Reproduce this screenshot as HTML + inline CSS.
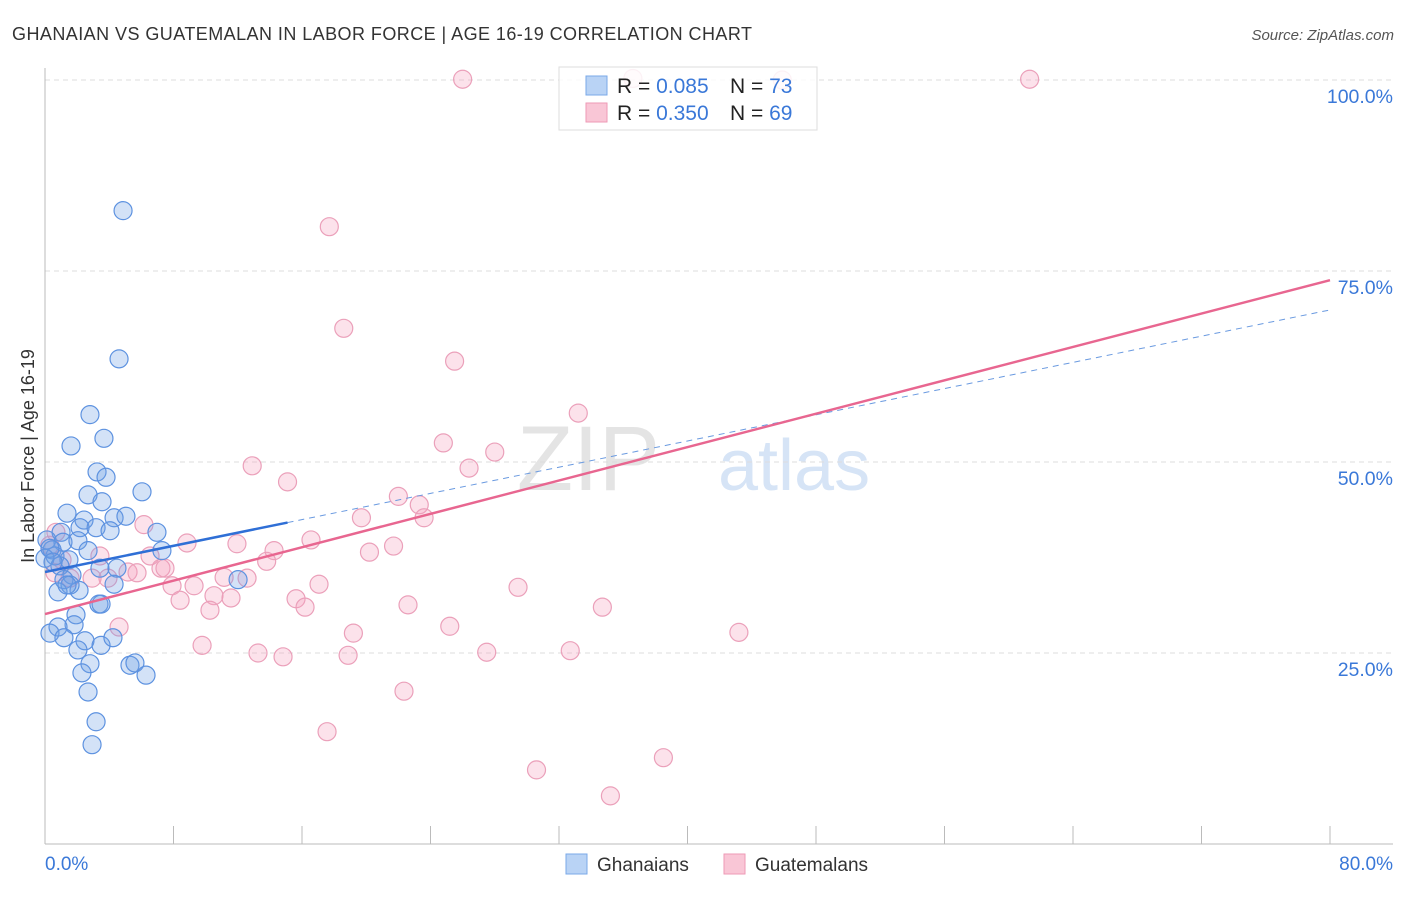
<!DOCTYPE html>
<html><head><meta charset="utf-8"><style>
body{margin:0;background:#fff;font-family:"Liberation Sans",sans-serif;}
svg text{font-family:"Liberation Sans",sans-serif;}
</style></head><body>
<svg id="chart" width="1406" height="892" xmlns="http://www.w3.org/2000/svg">
<text x="12" y="40" font-size="18" fill="#333" textLength="740" lengthAdjust="spacing">GHANAIAN VS GUATEMALAN IN LABOR FORCE | AGE 16-19 CORRELATION CHART</text>
<text x="1394" y="40" font-size="15" fill="#555" font-style="italic" text-anchor="end">Source: ZipAtlas.com</text>
<text x="660" y="490" font-size="92" fill="#e4e4e4" font-family="Liberation Serif" text-anchor="end">ZIP</text>
<text x="718" y="490" font-size="72" fill="#d6e4f6">atlas</text>
<text transform="translate(34,456) rotate(-90)" font-size="18" fill="#333" text-anchor="middle">In Labor Force | Age 16-19</text>
<g id="grid"></g><g id="pts"></g><g id="lines"></g>
<g>
<rect x="559" y="67" width="258" height="63" fill="rgba(255,255,255,0.85)" stroke="#ddd"/>
<rect x="586" y="76" width="21" height="19" fill="#b9d3f5" stroke="#7aa8e8"/>
<rect x="586" y="103" width="21" height="19" fill="#f9c6d6" stroke="#ee9ab6"/>
<text x="617" y="93" font-size="21" fill="#222">R = <tspan fill="#3a78d8">0.085</tspan></text>
<text x="730" y="93" font-size="21" fill="#222">N = <tspan fill="#3a78d8">73</tspan></text>
<text x="617" y="120" font-size="21" fill="#222">R = <tspan fill="#3a78d8">0.350</tspan></text>
<text x="730" y="120" font-size="21" fill="#222">N = <tspan fill="#3a78d8">69</tspan></text>
</g>
<g>
<rect x="566" y="854" width="21" height="20" fill="#b9d3f5" stroke="#7aa8e8"/>
<text x="597" y="871" font-size="19" fill="#333">Ghanaians</text>
<rect x="724" y="854" width="21" height="20" fill="#f9c6d6" stroke="#ee9ab6"/>
<text x="755" y="871" font-size="19" fill="#333">Guatemalans</text>
</g>
</svg>
<script>
const yTicks=[25,50,75,100];
const yTickLabels=["25.0%","50.0%","75.0%","100.0%"];
const xTicks=[0,10,20,30,40,50,60,70,80];
const blueX=[4.86,4.61,2.80,3.67,1.62,3.24,3.80,2.68,6.04,3.55,1.37,2.43,4.30,5.04,2.18,3.18,1.00,4.05,6.97,0.12,1.12,2.05,7.28,0.44,0.62,0,1.49,2.68,4.48,3.42,0.93,1.68,1.18,2.12,1.56,3.36,3.49,1.93,1.81,0.81,0.31,1.18,2.49,3.49,4.23,2.05,5.29,5.60,6.29,2.80,2.30,2.68,3.18,2.93,12.02,4.30,0.81,1.37,0.31,0.5];
const blueY=[82.9,63.5,56.2,53.1,52.1,48.7,48.0,45.7,46.1,44.8,43.3,42.4,42.7,42.9,41.4,41.4,40.8,41.0,40.8,39.8,39.5,39.7,38.4,38.5,37.7,37.4,37.2,38.4,36.1,36.1,36.4,35.2,34.6,33.2,33.9,31.4,31.4,30.0,28.7,28.4,27.6,27.0,26.6,26.0,27.0,25.4,23.4,23.7,22.1,23.6,22.4,19.9,16.0,13.0,34.6,34.0,33.0,33.9,38.7,36.9];
const pinkX=[26.0,61.3,45.9,36.6,17.7,18.6,25.5,33.2,24.8,28.0,26.4,12.9,15.1,22.0,23.3,19.7,23.6,6.16,0.68,8.84,11.95,16.56,20.2,21.7,14.26,13.8,3.42,6.54,7.22,7.47,5.17,5.73,3.92,2.93,12.58,11.15,0.62,17.06,29.45,7.91,9.28,15.63,8.41,10.52,11.58,16.19,22.6,34.7,10.27,25.2,19.2,4.61,43.2,9.78,13.26,14.82,18.87,27.5,32.7,22.35,17.56,30.6,38.5,35.2,0.3,1.06,1.56];
const pinkY=[100.1,100.1,100,100.2,80.8,67.5,63.2,56.4,52.5,51.3,49.2,49.5,47.4,45.5,44.4,42.7,42.7,41.8,40.8,39.4,39.3,39.8,38.2,39.0,38.4,37.0,37.7,37.7,36.1,36.1,35.6,35.5,34.8,34.8,34.8,34.9,35.5,34.0,33.6,33.8,33.8,32.1,31.9,32.5,32.2,31.0,31.3,31.0,30.6,28.5,27.6,28.4,27.7,26.0,25.0,24.5,24.7,25.1,25.3,20.0,14.7,9.7,11.3,6.3,39.1,37.2,34.8];
const blueTrend=[35.6,69.9], blueSolidEnd=15.1;
const pinkTrend=[30.1,73.8];
const X=v=>45+v*(1330-45)/80;
const Y=v=>844-v*(844-80)/100;
const NS="http://www.w3.org/2000/svg";
function mk(p,t,a){const e=document.createElementNS(NS,t);for(const k in a)e.setAttribute(k,a[k]);p.appendChild(e);return e;}
const grid=document.getElementById('grid');
yTicks.forEach((v,i)=>{
 const l=mk(grid,'line',{x1:45,x2:1393,y1:Y(v),y2:Y(v),stroke:'#ddd','stroke-dasharray':'5,4'});
 
 
 const t=mk(grid,'text',{x:1393,y:Y(v)+23,'font-size':19.5,fill:'#3a78d8','text-anchor':'end'});
 t.textContent=yTickLabels[i];
 
 
});
const ax=mk(grid,'line',{x1:45,x2:45,y1:68,y2:844,stroke:'#bbb'});


const bx=mk(grid,'line',{x1:45,x2:1393,y1:844,y2:844,stroke:'#bbb'});


for(let v=0;v<=80;v+=8){const tk=mk(grid,'line',{x1:X(v),x2:X(v),y1:826,y2:844,stroke:'#bbb'});
 
 }
const xl0=mk(grid,'text',{x:45,y:870,'font-size':19,fill:'#3a78d8'});xl0.textContent='0.0%';


const xl1=mk(grid,'text',{x:1393,y:870,'font-size':19,fill:'#3a78d8','text-anchor':'end'});xl1.textContent='80.0%';


const pts=document.getElementById('pts');
pinkX.forEach((x,i)=>{const c=mk(pts,'circle',{cx:X(x),cy:Y(pinkY[i]),r:9,fill:'rgba(245,160,190,0.3)',stroke:'#eba0ba','stroke-width':1.2});
 
 });
blueX.forEach((x,i)=>{const c=mk(pts,'circle',{cx:X(x),cy:Y(blueY[i]),r:9,fill:'rgba(110,160,230,0.3)',stroke:'#5d92e0','stroke-width':1.2});
 
 });
const lines=document.getElementById('lines');
const by=x=>blueTrend[0]+(blueTrend[1]-blueTrend[0])*x/80;
const py=x=>pinkTrend[0]+(pinkTrend[1]-pinkTrend[0])*x/80;
const l1=mk(lines,'line',{x1:X(blueSolidEnd),y1:Y(by(blueSolidEnd)),x2:X(80),y2:Y(by(80)),stroke:'#6a9ae0','stroke-width':1,'stroke-dasharray':'6,5'});


const l2=mk(lines,'line',{x1:X(0),y1:Y(py(0)),x2:X(80),y2:Y(py(80)),stroke:'#e86690','stroke-width':2.5});


const l3=mk(lines,'line',{x1:X(0),y1:Y(by(0)),x2:X(blueSolidEnd),y2:Y(by(blueSolidEnd)),stroke:'#2f6fd6','stroke-width':2.5});


</script>
</body></html>
